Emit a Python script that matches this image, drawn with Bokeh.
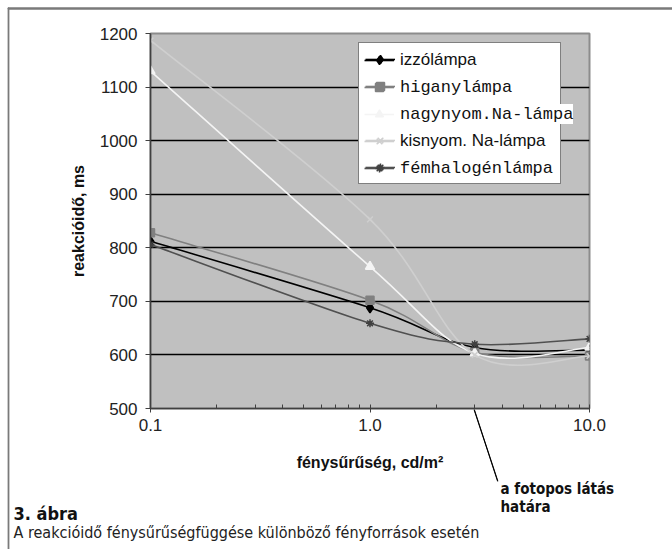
import math
import numpy as np
from bokeh.plotting import figure
from bokeh.models import (Range1d, FixedTicker, PrintfTickFormatter, Legend,
                          LegendItem, Label)
from bokeh.core.properties import value
from bokeh.embed import file_html
from bokeh.resources import INLINE

# ---------------- data ----------------
luminance = [0.1, 1.0, 3.0, 10.0]          # cd/m2
izzolampa = [812, 688, 614, 609]           # ms
higanylampa = [828, 702, 605, 598]
nagynyom_na = [1130, 765, 603, 614]
kisnyom_na = [1187, 853, 600, 598]
femhalogen = [806, 659, 620, 630]

series_names = ["izzólámpa", "higanylámpa", "nagynyom.Na-lámpa",
                "kisnyom. Na-lámpa", "fémhalogénlámpa"]
x_ticks = [0.1, 1.0, 10.0]
y_ticks = [500, 600, 700, 800, 900, 1000, 1100, 1200]

W, H = 672, 549
FL, FR, FT, FB = 150, 589, 33, 408
NARROW = "'DejaVu Sans Condensed', 'Liberation Sans', sans-serif"


def smooth(xs, ys):
    """Bezier segments (Excel-like smoothing) in log-x / linear-y space."""
    lx = np.log10(np.asarray(xs, float))
    y = np.asarray(ys, float)
    P = np.column_stack([lx, y])
    n = len(P)
    out = {k: [] for k in ("x0", "y0", "x1", "y1", "cx0", "cy0", "cx1", "cy1")}
    for i in range(n - 1):
        pp = P[max(i - 1, 0)]
        p0 = P[i]
        p1 = P[i + 1]
        pn = P[min(i + 2, n - 1)]
        c0 = p0 + (p1 - pp) / 6.0
        c1 = p1 - (pn - p0) / 6.0
        out["x0"].append(10 ** p0[0]); out["y0"].append(p0[1])
        out["x1"].append(10 ** p1[0]); out["y1"].append(p1[1])
        out["cx0"].append(10 ** c0[0]); out["cy0"].append(c0[1])
        out["cx1"].append(10 ** c1[0]); out["cy1"].append(c1[1])
    return out


def vline_box(xa, ya, xb, yb, color, width):
    """A (near-)vertical straight line: border of an empty zero-width text box."""
    length = math.hypot(xb - xa, yb - ya)
    return Label(x=(xa + xb) / 2, y=(ya + yb) / 2, x_units="canvas", y_units="canvas",
                 text=" ", text_font_size="1px", text_align="center",
                 text_baseline="middle", padding=(0, int(round(length / 2))),
                 angle=math.atan2(xb - xa, yb - ya),
                 border_line_color=color, border_line_width=width)


def hline_box(xa, xb, y, color, width):
    """A horizontal straight line: border of an empty zero-height text box."""
    return Label(x=(xa + xb) / 2, y=y, x_units="canvas", y_units="canvas",
                 text=" ", text_font_size="1px", text_align="center",
                 text_baseline="middle", padding=(int(round((xb - xa) / 2)), 0),
                 border_line_color=color, border_line_width=width)


p = figure(width=W, height=H, x_axis_type="log",
           x_range=Range1d(0.1, 10), y_range=Range1d(500, 1200),
           output_backend="svg", toolbar_location=None,
           min_border_left=FL, min_border_right=W - FR,
           min_border_top=FT, min_border_bottom=H - FB)

p.background_fill_color = "#c0c0c0"
p.border_fill_color = "white"
p.outline_line_color = "#8c8c8c"
p.outline_line_width = 2

# axes
p.xaxis.ticker = FixedTicker(ticks=x_ticks,
                             minor_ticks=[m * 10.0 ** e for e in (-1, 0) for m in range(2, 10)])
p.xaxis.formatter = PrintfTickFormatter(format="%.1f")
p.yaxis.ticker = FixedTicker(ticks=y_ticks)
for ax in (p.xaxis[0], p.yaxis[0]):
    ax.axis_line_color = "#404040"
    ax.axis_line_width = 1.5
    ax.major_tick_line_color = "#404040"
    ax.minor_tick_line_color = "#404040"
    ax.major_label_text_font = "Liberation Sans"
    ax.major_label_text_font_size = "17px"
    ax.major_label_text_color = "#222222"
    ax.axis_label_text_font = "Liberation Sans"
    ax.axis_label_text_font_style = "bold"
    ax.axis_label_text_font_size = "16px"
    ax.axis_label_text_color = "#111111"

p.yaxis.major_tick_out = 5
p.yaxis.major_tick_in = 0
p.yaxis.minor_tick_out = 0
p.yaxis.major_label_standoff = 8
p.yaxis.axis_label = "reakcióidő, ms"
p.yaxis.axis_label_standoff = 10

p.xaxis.major_tick_in = 4
p.xaxis.major_tick_out = 4
p.xaxis.minor_tick_in = 4
p.xaxis.minor_tick_out = 0
p.xaxis.major_label_standoff = 6
p.xaxis.axis_label = "fénysűrűség, cd/m²"
p.xaxis.axis_label_standoff = 20

p.xgrid.visible = False
p.ygrid.ticker = FixedTicker(ticks=y_ticks[1:-1])
p.ygrid.grid_line_color = "black"
p.ygrid.grid_line_width = 1.5

# ---------------- series ----------------
styles = [
    (izzolampa, "black", "diamond", 10, "black"),
    (higanylampa, "#808080", "square", 8, "#808080"),
    (nagynyom_na, "#f4f4f4", "triangle", 9, "#f4f4f4"),
    (kisnyom_na, "#cfcfcf", "x", 8, "#cfcfcf"),
    (femhalogen, "#505050", "asterisk", 8, "#404040"),
]

renderers = []
for (vals, col, marker, size, mcol) in styles:
    seg = smooth(luminance, vals)
    rl = p.bezier(x0="x0", y0="y0", x1="x1", y1="y1", cx0="cx0", cy0="cy0",
                  cx1="cx1", cy1="cy1", source=seg, line_color=col, line_width=1.6)
    rs = p.scatter(luminance, vals, marker=marker, size=size,
                   fill_color=mcol, line_color=mcol, line_width=1.5)
    renderers.append([rl, rs])

# legend frame (white box with black border)
box = Legend(items=[LegendItem(label=value(" "), renderers=r) for r in renderers],
             location=(358 - FL, FB - 184),
             glyph_width=30, glyph_height=20, label_height=20,
             label_width=154, label_standoff=5, spacing=7, padding=6,
             margin=0, border_line_color="black", border_line_width=1.5,
             background_fill_color="white", background_fill_alpha=1.0,
             label_text_font_size="2px")
p.add_layout(box)

# one legend per entry, so each can carry its own font
fonts = ["Liberation Sans", "Liberation Mono", "Liberation Mono",
         "Liberation Sans", "Liberation Mono"]
for i, (name, fnt, r) in enumerate(zip(series_names, fonts, renderers)):
    row_c = 60 + 27 * i
    lg = Legend(items=[LegendItem(label=value(name), renderers=r)],
                location=(364 - FL, FB - (row_c + 10)),
                glyph_width=30, glyph_height=20, label_height=20,
                label_standoff=6, spacing=0, padding=0, margin=0,
                border_line_alpha=0,
                background_fill_color="white",
                background_fill_alpha=1.0 if i == 2 else 0.0,
                label_text_font=fnt, label_text_font_size="17px",
                label_text_color="#111111")
    p.add_layout(lg)

# ---------------- outer frame lines ----------------
p.add_layout(hline_box(8, 720, 8, "#7a7a7a", 1.5), "above")
p.add_layout(vline_box(8, 8, 8, 600, "#7a7a7a", 1.5), "right")

# ---------------- annotation with leader line ----------------
p.add_layout(vline_box(474, FB + 2, 497, 480, "black", 1), "right")
for txt, yy in (("a fotopos látás", 488), ("határa", 506)):
    p.add_layout(Label(x=500, y=yy, x_units="canvas", y_units="canvas", text=txt,
                       text_font=NARROW, text_font_style="bold",
                       text_font_size="15px", text_baseline="middle",
                       text_color="#111111"), "below")

# ---------------- caption ----------------
p.add_layout(Label(x=13, y=513, x_units="canvas", y_units="canvas", text="3. ábra",
                   text_font=NARROW, text_font_style="bold",
                   text_font_size="18px", text_baseline="middle",
                   text_color="#111111"), "below")
p.add_layout(Label(x=13, y=532, x_units="canvas", y_units="canvas",
                   text="A reakcióidő fénysűrűségfüggése különböző fényforrások esetén",
                   text_font=NARROW,
                   text_font_size="16px", text_baseline="middle",
                   text_color="#222222"), "below")

open("out.html", "w").write(file_html(p, INLINE))
